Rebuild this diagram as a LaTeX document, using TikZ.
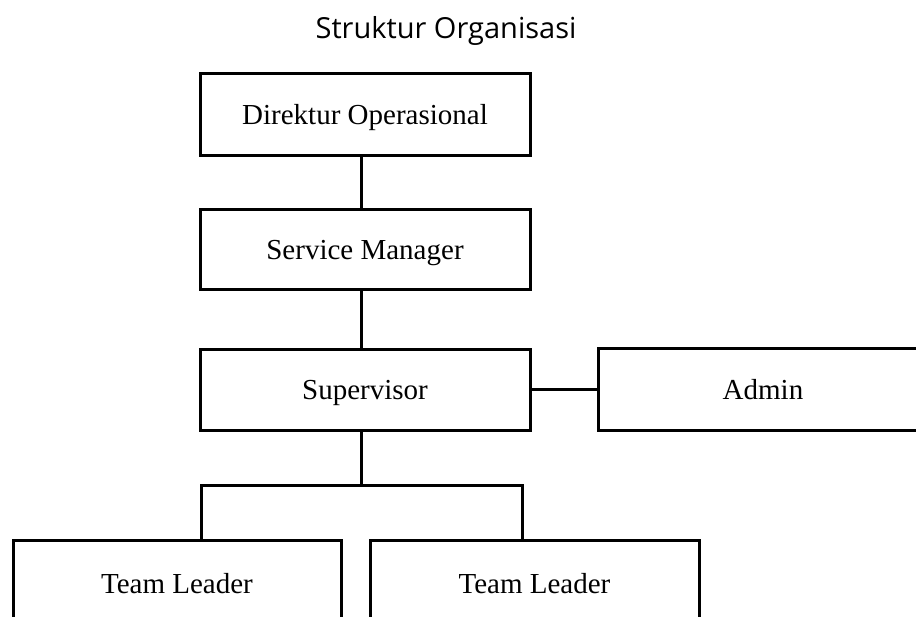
\documentclass[tikz,border=0pt]{standalone}
\usepackage{fontspec}
\setmainfont{Liberation Serif}
\newfontfamily\titlefont{Open Sans}
\tikzset{box/.style = {draw, fill=white, line width=3pt, rectangle, minimum height=82pt, minimum width=330pt, text height=20pt, text depth=0pt, font=\fontsize{29}{34}\selectfont},
         link/.style = {line width=3pt}}

\begin{document}
\begin{tikzpicture}[x=1pt,y=-1pt]
    \useasboundingbox(0,0)rectangle(916,617);
    \clip(0,0)rectangle(916,617);
    \node[anchor=base,font=\titlefont\fontsize{29}{34}\selectfont](title)at(446,39){Struktur Organisasi};
    \node[box](dir)at(365,114.5){Direktur Operasional};
    \node[box,minimum height=80pt](svc)at(365,250){Service Manager};
    \node[box,minimum height=81pt](spv)at(365,390){Supervisor};
    \node[box,minimum height=82pt](adm)at(763,390){Admin};
    \node[box,minimum height=86pt,minimum width=328pt](tl1)at(177,583){Team Leader};
    \node[box,minimum height=86pt,minimum width=329pt](tl2)at(534.5,583){Team Leader};
    % bus below the supervisor
    \coordinate(bus)at(361,485);
    \coordinate(busl)at(201,485);
    \coordinate(busr)at(522,485);
    \draw[link](dir.south-|bus)--(svc.north-|bus);
    \draw[link](svc.south-|bus)--(spv.north-|bus);
    \draw[link](spv.east)--(adm.west);
    \draw[link](spv.south-|bus)--(bus);
    \draw[link](tl1.north-|busl)--(busl)--(busr)--(tl2.north-|busr);
\end{tikzpicture}
\end{document}
